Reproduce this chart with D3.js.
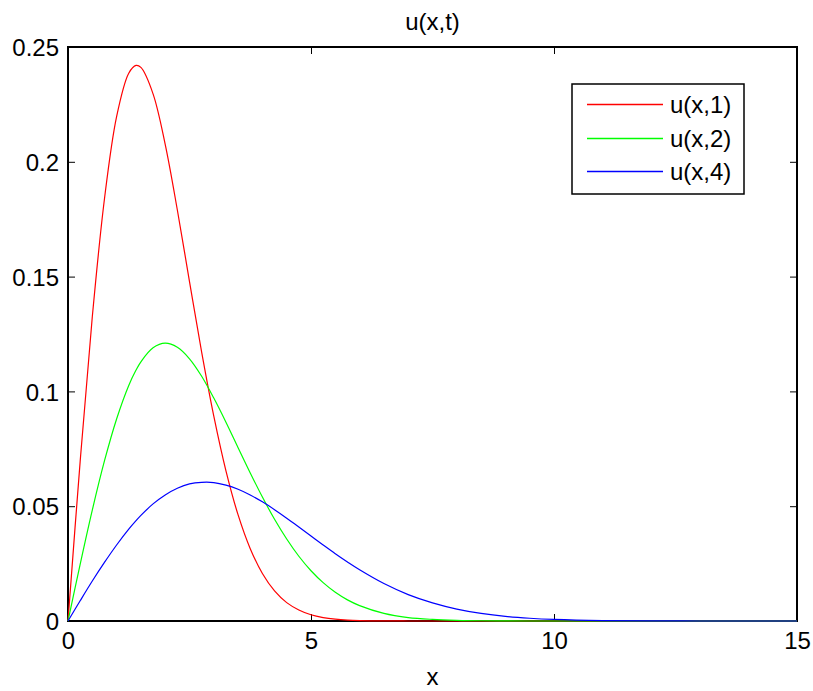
<!DOCTYPE html>
<html>
<head>
<meta charset="utf-8">
<script src="https://cdn.jsdelivr.net/npm/d3@7"></script>
<style>
  body { margin: 0; background: #fff; }
  text { font-family: "Liberation Sans", Arial, sans-serif; fill: #000; }
</style>
</head>
<body>
<svg width="813" height="691"></svg>
<script>
// sample positions along x (shared by all three curves)
var xs = [0, 0.25, 0.5, 0.75, 1, 1.25, 1.4, 1.5, 1.75, 2, 2.25, 2.5, 2.75, 3, 3.25, 3.5, 3.75, 4, 4.25, 4.5, 4.75, 5, 5.25, 5.5, 5.75, 6,
          6.5, 7, 7.5, 8, 8.5, 9, 9.5, 10, 11, 12, 13, 14, 15];
// values
var u1 = [0, 0.0694, 0.1325, 0.1838, 0.2197, 0.2386, 0.2420, 0.2411, 0.2296, 0.2076, 0.1790, 0.1478, 0.1171, 0.0892, 0.0654, 0.0462, 0.0315, 0.0207, 0.0131, 0.0080, 0.0048, 0.0027, 0.0015, 0.0008, 0.0004, 0.0002,
          0.00005, 0.00001, 0, 0, 0, 0, 0, 0, 0, 0, 0, 0, 0];
var u2 = [0, 0.0247, 0.0483, 0.0697, 0.0880, 0.1026, 0.1093, 0.1129, 0.1190, 0.1210, 0.1192, 0.1142, 0.1066, 0.0971, 0.0866, 0.0755, 0.0645, 0.0540, 0.0443, 0.0357, 0.0282, 0.0219, 0.0167, 0.0125, 0.0092, 0.0067,
          0.0033, 0.0015, 0.0007, 0.0003, 0.0001, 0.00004, 0.00001, 0, 0, 0, 0, 0, 0];
var u4 = [0, 0.0088, 0.0174, 0.0255, 0.0331, 0.0400, 0.0437, 0.0460, 0.0510, 0.0549, 0.0578, 0.0597, 0.0604, 0.0603, 0.0592, 0.0574, 0.0549, 0.0519, 0.0485, 0.0448, 0.0409, 0.0370, 0.0331, 0.0293, 0.0257, 0.0223,
          0.0163, 0.0115, 0.0079, 0.0052, 0.0033, 0.0020, 0.0012, 0.0007, 0.0002, 0.00005, 0.00001, 0, 0];

var seriesNames = ['u(x,1)', 'u(x,2)', 'u(x,4)'];
var seriesColors = ['#ff0000', '#00ff00', '#0000ff'];
var seriesValues = [u1, u2, u4];

var xTicks = [0, 5, 10, 15];
var yTicks = [0, 0.05, 0.1, 0.15, 0.2, 0.25];
var yTickLabels = ['0', '0.05', '0.1', '0.15', '0.2', '0.25'];

var svg = d3.select('svg');
var padding = {t: 47, r: 16, b: 70, l: 68};
var plotW = 813 - padding.l - padding.r;
var plotH = 691 - padding.t - padding.b;

var xScale = d3.scaleLinear().domain([0, 15]).range([0, plotW]);
var yScale = d3.scaleLinear().domain([0, 0.25]).range([plotH, 0]);

var chartG = svg.append('g')
    .attr('transform', 'translate(' + [padding.l, padding.t] + ')');

// inward ticks on all four sides, labels only left and bottom
var xAxis = d3.axisBottom(xScale).tickValues(xTicks).tickSize(-7).tickPadding(11).tickFormat(d3.format('d'));
var yAxis = d3.axisLeft(yScale).tickValues(yTicks).tickSize(-7).tickPadding(9)
    .tickFormat(function(d, i) { return yTickLabels[i]; });

chartG.append('g')
    .attr('class', 'x axis')
    .attr('transform', 'translate(' + [0, plotH] + ')')
    .call(xAxis);
chartG.append('g')
    .attr('class', 'y axis')
    .call(yAxis);
chartG.append('g')
    .call(d3.axisTop(xScale).tickValues(xTicks).tickSize(-7).tickFormat(''));
chartG.append('g')
    .attr('transform', 'translate(' + [plotW, 0] + ')')
    .call(d3.axisRight(yScale).tickValues(yTicks).tickSize(-7).tickFormat(''));

chartG.selectAll('.domain').remove();
chartG.selectAll('.tick line').attr('stroke', '#000').attr('stroke-width', 1);
chartG.selectAll('.tick text')
    .style('font-size', '24px')
    .style('font-family', '"Liberation Sans", Arial, sans-serif');
chartG.select('.y.axis').selectAll('.tick text').attr('dy', '0.36em');

// axes box
chartG.append('rect')
    .attr('width', plotW)
    .attr('height', plotH)
    .attr('fill', 'none')
    .attr('stroke', '#000')
    .attr('stroke-width', 2);

// curves
var line = d3.line()
    .x(function(d) { return xScale(d[0]); })
    .y(function(d) { return yScale(d[1]); })
    .curve(d3.curveCatmullRom.alpha(0.5));

seriesValues.forEach(function(vals, k) {
    chartG.append('path')
        .datum(xs.map(function(x, i) { return [x, vals[i]]; }))
        .attr('fill', 'none')
        .attr('stroke', seriesColors[k])
        .attr('stroke-width', 1.2)
        .attr('d', line);
});

// title and x label
svg.append('text')
    .attr('x', padding.l + plotW / 2)
    .attr('y', 30)
    .attr('text-anchor', 'middle')
    .style('font-size', '24px')
    .text('u(x,t)');
svg.append('text')
    .attr('x', padding.l + plotW / 2)
    .attr('y', 685)
    .attr('text-anchor', 'middle')
    .style('font-size', '24px')
    .text('x');

// legend
var legendG = svg.append('g')
    .attr('transform', 'translate(' + [572, 84] + ')');
legendG.append('rect')
    .attr('width', 172)
    .attr('height', 110)
    .attr('fill', '#fff')
    .attr('stroke', '#000')
    .attr('stroke-width', 1.5);
seriesNames.forEach(function(name, i) {
    var y = Math.round(20 + i * 33.5) + 0.5;
    legendG.append('line')
        .attr('x1', 15).attr('x2', 91)
        .attr('y1', y).attr('y2', y)
        .attr('stroke', seriesColors[i])
        .attr('stroke-width', 1.5);
    legendG.append('text')
        .attr('x', 98)
        .attr('y', y)
        .attr('dy', '0.36em')
        .style('font-size', '24px')
        .text(name);
});
</script>
</body>
</html>
